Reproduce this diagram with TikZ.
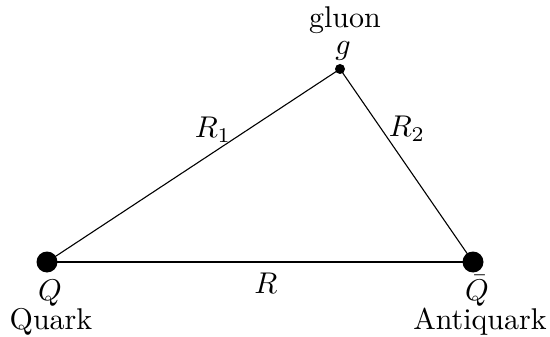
\documentclass[tikz,border=0pt]{standalone}
\begin{document}
\begin{tikzpicture}[x=1pt,y=-1pt,
  txt/.style={scale=3,inner sep=0pt,anchor=base},
  bigdot/.style={circle,fill=black,inner sep=0pt,minimum size=21pt},
  smalldot/.style={circle,fill=black,inner sep=0pt,minimum size=10pt},
  side/.style={line width=1.1pt},
  basel/.style={line width=2.2pt}]
\useasboundingbox (0,0) rectangle (550,337);
\node[bigdot] (q) at (47,262) {};
\node[bigdot] (aq) at (473,262) {};
\node[smalldot] (g) at (340,69) {};
\draw[side] (q.center) -- (g.center);
\draw[side] (g.center) -- (aq.center);
\draw[basel] (q.center) -- (aq.center);
\node[txt] (gluonlbl) at (345,28) {gluon};
\node[txt] (glbl) at (343,55) {$g$};
\node[txt] (qlbl) at (50,300) {$Q$};
\node[txt] (quarklbl) at (51,329) {Quark};
\node[txt] (aqlbl) at (477,300) {$\bar{Q}$};
\node[txt] (antiquarklbl) at (480,329) {Antiquark};
\node[txt] (r1) at (213,138) {$R_1$};
\node[txt] (r2) at (407,137) {$R_2$};
\node[txt] (r) at (266,293) {$R$};
\end{tikzpicture}
\end{document}
